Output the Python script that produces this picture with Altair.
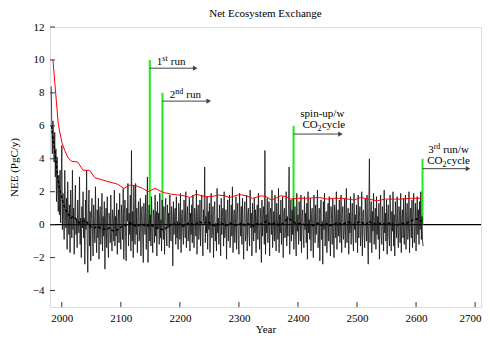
import altair as alt
import pandas as pd

# ---------------- data ----------------
nee = [
 8.4, 6.2, 4.3, 6.3, 5.1, 3.8, 5.6, 2.9, 4.6, 1.4,
 4.1, 2.2, 0.8, 3.0, 0.6, 3.3, 0.1, 2.5, 4.8, -0.3,
 1.9, 0.6, -0.9, 3.3, 0.9, -0.2, 1.6, -1.5, 2.6, 0.4,
 -0.6, 1.2, -1.7, 2.1, 0.6, -0.8, 3.3, -0.3, 1.0, -1.8,
 0.7, 2.4, -0.6, 0.3, -1.4, 1.5, 0.2, -0.5, 2.9, -1.2,
 0.4, -2.0, 1.1, -0.2, 2.0, -0.8, 0.4, -2.4, 1.5, -0.3,
 3.3, -1.0, -2.9, 0.6, 2.1, -1.3, 0.8, -2.2, 0.3, 1.6,
 -0.6, -1.9, 1.2, 0.1, -1.1, 2.3, -0.4, -1.7, 0.9, -0.8,
 1.6, -2.1, 0.4, 1.1, -1.2, -0.2, 1.9, -1.6, 0.5, -0.7,
 1.4, -2.7, 0.2, 1.0, -1.4, 1.7, -0.9, -2.0, 0.7, 0.3,
 -1.1, 1.8, -0.5, -1.6, 0.9, 0.4, -1.0, 2.1, -1.3, 0.5,
 -0.7, 1.3, -1.8, 0.2, 0.9, -1.1, 1.9, -0.4, -1.5, 1.2,
 0.1, -0.9, 2.2, -2.1, 0.6, 1.5, -0.7, -2.2, 1.0, 0.2,
 2.5, -1.3, 0.7, -0.6, 1.8, -1.6, 4.5, -1.0, 0.8, -2.0,
 2.4, 0.3, -1.2, 2.5, -0.6, 1.0, -1.7, 0.5, 1.4, -1.0,
 -0.3, 1.6, -1.9, 0.7, 1.1, -0.8, -2.3, 1.3, 0.2, -0.6,
 1.8, -1.5, 0.5, 2.9, -2.3, 0.3, 1.2, -1.0, 0.6, -1.3,
 1.7, -0.4, -1.7, 0.9, 0.4, -1.1, 1.8, -0.7, 0.8, -1.9,
 1.4, -0.2, 0.7, -1.2, 1.9, -0.8, 0.3, -1.6, 1.5, 0.1,
 -0.9, 1.1, -1.8, 0.6, 1.6, -0.5, -1.3, 1.2, -0.2, 0.7,
 -1.4, 1.8, -0.4, -1.0, 1.1, 0.3, -2.5, 1.4, -0.6, 0.5,
 1.0, -1.2, 1.7, -0.8, 0.2, -1.5, 1.3, 0.5, -0.9, 1.9,
 -1.7, 0.6, 0.9, -0.5, -1.2, 1.5, 0.1, -0.8, 2.0, -1.4,
 0.4, 1.1, -1.0, -0.2, 1.6, -1.6, 0.7, -0.6, 1.2, -1.1,
 1.8, -0.4, -1.4, 1.0, 0.3, -0.7, 2.1, -1.8, 0.5, 1.2,
 -0.9, -0.2, 1.5, -1.3, 0.6, 1.8, -0.7, -1.9, 0.9, 0.2,
 3.5, -1.1, 0.5, -0.5, 1.7, -1.5, 0.8, -0.3, 1.3, -1.7,
 0.3, 1.9, -0.8, -0.5, 1.1, -2.0, 0.7, 1.4, -1.0, 0.1,
 -1.6, 2.2, -0.5, 0.4, -1.2, 1.2, -0.2, -1.9, 1.6, -0.6,
 0.5, 1.0, -1.3, 2.0, -0.8, -0.3, 0.9, -2.1, 0.5, 1.5,
 -1.0, 0.2, 1.8, -1.4, -0.4, 1.2, -0.7, 2.3, -1.7, 0.3,
 0.9, -1.1, -0.1, 1.7, -1.5, 0.6, 1.3, -0.9, -1.8, 1.9,
 0.4, -0.7, 1.1, -1.2, 1.6, -0.3, -2.1, 0.8, 1.4, -1.0,
 -0.5, 1.8, -1.6, 0.6, 1.0, -0.6, -1.3, 2.1, -0.2, 0.7,
 -1.9, 1.3, 0.2, -1.0, 1.6, -0.5, 0.9, -1.7, 0.4, 1.2,
 -0.9, 1.9, -0.3, -1.5, 1.0, 0.3, -2.3, 1.5, -0.7, 0.5,
 1.1, -1.2, 4.5, -1.8, 0.6, -0.5, 1.6, -1.1, 0.1, 1.4,
 -1.9, 0.7, 1.0, -0.6, 2.1, -1.4, -0.3, 0.8, -1.0, 1.8,
 -0.4, -1.6, 1.3, 0.3, -0.9, 2.2, -1.7, 0.6, -0.5, 1.5,
 -1.2, 0.2, 1.7, -2.0, 0.7, 1.0, -0.8, -0.2, 2.0, -1.3,
 0.5, -0.7, 1.2, 3.5, -1.8, 0.3, 1.5, -1.0, 0.9, -0.6,
 1.6, -1.5, 0.3, 1.1, -0.7, -1.9, 1.9, -0.4, 0.6, -1.2,
 1.4, 0.2, -1.0, 1.8, -1.7, 0.5, 0.9, -0.6, -1.4, 1.7,
 -0.3, 0.7, -1.1, 1.3, -2.1, 2.0, -0.5, 0.3, -0.9, 1.6,
 -1.6, 0.6, 1.0, -0.4, -2.0, 1.8, 0.1, -1.1, 1.2, -0.6,
 0.4, 2.1, -1.4, -0.7, 1.0, -2.2, 0.6, 1.5, -0.9, 0.2,
 -2.4, 1.4, -0.3, 1.9, -1.3, 0.5, 0.8, -1.7, 0.3, 1.3,
 -1.0, 1.7, -0.6, -1.9, 1.1, 0.3, -1.2, 1.6, -0.4, -2.0,
 1.2, 0.6, -0.8, 2.0, -1.5, 0.2, 0.9, -0.7, 1.5, -1.1,
 -0.2, 1.8, -1.7, 0.6, 1.1, -0.9, -0.4, 1.6, -1.4, 0.4,
 2.2, -1.1, 0.1, 1.0, -1.8, 0.7, -0.5, 1.7, -1.2, 0.3,
 1.3, -0.7, -1.6, 1.9, -0.3, 0.6, -1.1, 1.2, 0.2, -1.7,
 1.8, -0.8, 0.5, 1.1, -1.3, -0.4, 2.0, -1.9, 0.7, 0.9,
 -0.7, -1.4, 1.6, 0.3, -1.0, 1.8, -0.5, -2.4, 1.1, 4.0,
 -1.1, 0.4, 1.4, -1.7, 0.8, -0.4, 1.9, -1.2, 0.2, 1.0,
 -1.5, 1.7, -0.6, 0.5, -0.9, 1.3, -2.1, 0.4, 1.8, -0.7,
 -1.2, 1.1, 0.1, -1.6, 2.1, -0.5, 0.7, -1.0, 1.5, -1.8,
 0.5, 1.2, -0.7, -1.3, 1.8, 0.2, -1.6, 0.8, -0.4, 2.0,
 -1.3, 0.6, -1.9, 1.4, 0.4, -0.8, 1.7, -0.3, -1.4, 1.1,
 0.7, -1.1, 1.9, -1.7, 0.4, 0.9, -0.8, 1.6, -1.2, -0.2,
 1.8, -1.5, 0.5, 1.3, -0.9, -0.4, 2.0, -1.7, 0.3, 1.0,
 -0.8, 1.5, -1.4, 0.6, 1.9, -1.1, -0.1, 1.3, -1.6, 0.5,
 1.7, -0.6, 0.9, -1.2, 1.4, -0.3, 2.0, -0.9, 0.5, -1.0,
 -1.3,
]
nee_years = list(range(1982, 1982 + len(nee)))

avg_years = [1983, 1985, 1987, 1990, 1993, 1996, 2000] + list(range(2005, 2611, 5))
avg_vals = [
 6.0, 5.2, 4.8, 3.9, 2.9, 2.2, 1.6,
 1.0, 0.7, 0.4, 0.5, 0.3, 0.1, 0.2, 0.25, 0.05,
 -0.15, -0.2, -0.1, -0.2, -0.25, -0.3, -0.2, -0.35, -0.4, -0.3,
 -0.15, -0.1, 0.0, 0.1, 0.05, -0.1, -0.05, 0.05, -0.05, -0.1,
 0.0, -0.1, -0.2, -0.25, -0.3, -0.25, -0.1, 0.0, 0.05, -0.05,
 0.05, -0.1, 0.0, 0.1, 0.05, -0.05, 0.1, 0.15, 0.05, 0.2,
 0.1, 0.0, -0.1, 0.05, 0.1, 0.0, -0.05, 0.1, 0.05, -0.05,
 0.0, 0.1, -0.05, 0.05, 0.0, -0.1, 0.05, 0.1, 0.0, 0.2,
 0.1, 0.0, 0.1, 0.05, -0.05, 0.1, 0.3, 0.35, 0.25, 0.1,
 0.05, 0.1, 0.0, -0.05, 0.05, -0.05, 0.0, 0.1, -0.05, 0.0,
 0.05, -0.05, 0.0, 0.1, 0.05, 0.0, 0.1, 0.15, 0.05, 0.0,
 0.1, 0.2, 0.1, 0.0, 0.2, 0.1, 0.05, 0.0, 0.1, 0.05,
 0.0, 0.1, 0.05, -0.05, 0.0, 0.1, 0.05, 0.1, 0.2, 0.3,
 0.35, 0.3, 0.2,
]

max_years = [1985, 1994, 2000, 2005, 2010, 2016, 2027, 2036, 2047, 2056, 2070, 2085, 2095,
             2105, 2115, 2127, 2137, 2146, 2158, 2172, 2186, 2197, 2207, 2217, 2228, 2242,
             2253, 2265, 2276, 2284, 2301, 2312, 2323, 2338, 2346, 2355, 2371, 2380, 2388,
             2400, 2414, 2436, 2450, 2460, 2473, 2485, 2495, 2506, 2520, 2534, 2548, 2560,
             2574, 2591, 2608]
max_vals = [10.0, 6.1, 5.0, 4.5, 4.1, 3.85, 3.8, 3.3, 3.3, 2.85, 2.7, 2.55, 2.45,
            2.2, 2.4, 2.35, 2.2, 2.0, 2.2, 1.95, 1.85, 1.8, 1.75, 1.65, 1.85, 1.7,
            1.7, 1.8, 1.75, 1.65, 1.83, 1.75, 1.6, 1.75, 1.7, 1.5, 1.75, 1.7, 1.55,
            1.6, 1.6, 1.65, 1.55, 1.6, 1.6, 1.55, 1.5, 1.65, 1.55, 1.45, 1.55, 1.55,
            1.55, 1.6, 1.6]

run_years = [2149, 2170.5, 2392.5, 2611]
run_tops = [10, 8, 6, 4]
arrow_levels = [9.5, 7.5, 5.5, 3.4]
arrow_ends = [2226, 2249, 2472, 2688]

x_ticks = [2000, 2100, 2200, 2300, 2400, 2500, 2600, 2700]
y_ticks = [-4, -2, 0, 2, 4, 6, 8, 10, 12]

# ---------------- layout helpers ----------------
W, H = 431, 280
XMIN, XMAX = 1980, 2710
YMIN, YMAX = -5, 12
PPY = W / (XMAX - XMIN)
PPU = H / (YMAX - YMIN)
FONT = "Liberation Serif"

def pieces(anchor_x, anchor_y, parts):
    out = []
    for text, dx, dy, fs in parts:
        out.append({"t": text, "x": anchor_x + dx / PPY, "y": anchor_y - dy / PPU, "fs": fs})
    return out

label_rows = []
label_rows += pieces(2161, 9.71, [("1", 0, 0, 11), ("st", 5.5, -4, 8), ("run", 14, 0, 11)])
label_rows += pieces(2183, 7.69, [("2", 0, 0, 11), ("nd", 5.5, -4, 8), ("run", 16.5, 0, 11)])
label_rows += pieces(2404, 6.55, [("spin-up/w", 0, 0, 11)])
label_rows += pieces(2407.5, 5.84, [("CO", 0, 0, 11), ("2", 15.2, 3, 8), ("cycle", 19.5, 0, 11)])
label_rows += pieces(2620.5, 4.35, [("3", 0, 0, 11), ("rd", 5.5, -4, 8), ("run/w", 15, 0, 11)])
label_rows += pieces(2619, 3.71, [("CO", 0, 0, 11), ("2", 15.2, 3, 8), ("cycle", 19.5, 0, 11)])

df_nee = pd.DataFrame({"year": nee_years, "v": nee})
df_avg = pd.DataFrame({"year": avg_years, "v": avg_vals})
df_max = pd.DataFrame({"year": max_years, "v": max_vals})
df_run = pd.DataFrame({"x": run_years, "top": run_tops, "lvl": arrow_levels, "end": arrow_ends})
df_lab = pd.DataFrame(label_rows)
df_xt = pd.DataFrame({"x": x_ticks})
df_yt = pd.DataFrame({"y": y_ticks})
df_zero = pd.DataFrame({"y": [0]})

xscale = alt.Scale(domain=[XMIN, XMAX], nice=False, zero=False)
yscale = alt.Scale(domain=[YMIN, YMAX], nice=False, zero=False)

xaxis = alt.Axis(values=x_ticks, format="d", ticks=False, domain=False, grid=False,
                 labelFont=FONT, labelFontSize=11, labelColor="black", labelPadding=5,
                 labelOffset=alt.condition("datum.value == 2700", alt.value(-5), alt.value(0)),
                 title="Year", titleFont=FONT, titleFontSize=11, titleFontWeight="normal",
                 titleColor="black", titleBaseline="alphabetic", titleY=25)
yaxis = alt.Axis(values=y_ticks, format="d", ticks=False, domain=False, grid=False,
                 labelFont=FONT, labelFontSize=11, labelColor="black", labelPadding=6,
                 title="NEE (PgC/y)", titleFont=FONT, titleFontSize=11, titleFontWeight="normal",
                 titleColor="black", titlePadding=13)

X = lambda f: alt.X(f, type="quantitative", scale=xscale, axis=xaxis)
Y = lambda f: alt.Y(f, type="quantitative", scale=yscale, axis=yaxis)

zero = alt.Chart(df_zero).mark_rule(color="black", strokeWidth=1.3).encode(y=Y("y"))

green = alt.Chart(df_run).mark_rule(color="#1ee81e", strokeWidth=2).encode(
    x=X("x"), y=Y("top"), y2=alt.Y2("zero_v:Q")
).transform_calculate(zero_v="0")

black = alt.Chart(df_nee).mark_line(color="#111111", strokeWidth=0.8, clip=True).encode(
    x=X("year"), y=Y("v"))

red = alt.Chart(df_max).mark_line(color="#ff0000", strokeWidth=1).encode(
    x=X("year"), y=Y("v"))

dashed = alt.Chart(df_avg).mark_line(color="black", strokeWidth=1.5, strokeDash=[3, 2]).encode(
    x=X("year"), y=Y("v"))

arrows = alt.Chart(df_run).mark_rule(color="#444444", strokeWidth=1).encode(
    x=X("x"), x2=alt.X2("end"), y=Y("lvl"))

heads = alt.Chart(df_run).mark_point(shape="triangle-right", filled=True, size=28,
                                     color="#444444", opacity=1).encode(
    x=X("end"), y=Y("lvl"))

labels = alt.Chart(df_lab).mark_text(font=FONT, align="left", baseline="alphabetic",
                                     color="black").encode(
    x=X("x"), y=Y("y"), text="t:N", size=alt.Size("fs:Q", scale=None, legend=None))

xt = alt.Chart(df_xt).mark_rule(color="#333333").encode(
    x=X("x"), y=alt.value(H), y2=alt.value(H - 5))
yt = alt.Chart(df_yt).mark_rule(color="#333333").encode(
    y=Y("y"), x=alt.value(0), x2=alt.value(5))

chart = alt.layer(zero, green, black, red, dashed, arrows, heads, labels, xt, yt).properties(
    width=W, height=H,
    title=alt.TitleParams("Net Ecosystem Exchange", font=FONT, fontSize=11,
                          fontWeight="normal", color="black", offset=2),
    autosize=alt.AutoSizeParams(type="none"),
    padding={"left": 42, "top": 19, "right": 1, "bottom": 26},
).configure_view(stroke="#333333", strokeWidth=1).configure(background="white")

chart.save("out.html", embed_options={"renderer": "svg", "actions": False})
